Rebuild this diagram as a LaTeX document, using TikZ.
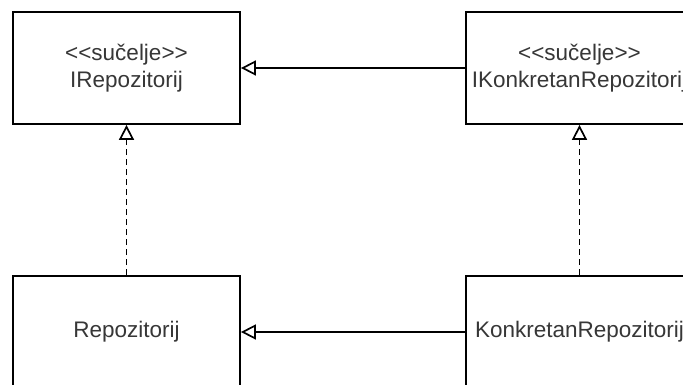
\documentclass[tikz,border=0pt]{standalone}
\usepackage{fontspec}
\setmainfont{Liberation Sans}
\usetikzlibrary{arrows.meta}
\definecolor{txt}{RGB}{55,55,55}
\tikzset{
  cls/.style={draw=black, line width=1.8pt, fill=white, minimum width=227pt, minimum height=112pt,
    inner sep=0pt, align=center, text=txt, font=\fontsize{22.5}{27}\selectfont},
  gen/.style={line width=1.7pt, -{Triangle[open, length=15pt, width=15pt, line width=1.7pt]}},
  real/.style={gen, dash pattern=on 6pt off 4pt}
}
\begin{document}
\begin{tikzpicture}[x=1pt,y=-1pt]
\useasboundingbox (0,0) rectangle (683,385);
\clip (0,0) rectangle (683,385);
\fill[white] (0,0) rectangle (683,385);
\node[cls] (tl) at (126.5,68) {<\kern0pt<sučelje>\kern0pt>\\IRepozitorij};
\node[cls] (tr) at (579.5,68) {<\kern0pt<sučelje>\kern0pt>\\IKonkretanRepozitorij};
\node[cls] (bl) at (126.5,332) {Repozitorij};
\node[cls] (br) at (579.5,332) {KonkretanRepozitorij};
\draw[gen] (tr.west) -- (tl.east);
\draw[gen] (br.west) -- (bl.east);
\draw[real] (bl.north) -- (tl.south);
\draw[real] (br.north) -- (tr.south);
\end{tikzpicture}
\end{document}
